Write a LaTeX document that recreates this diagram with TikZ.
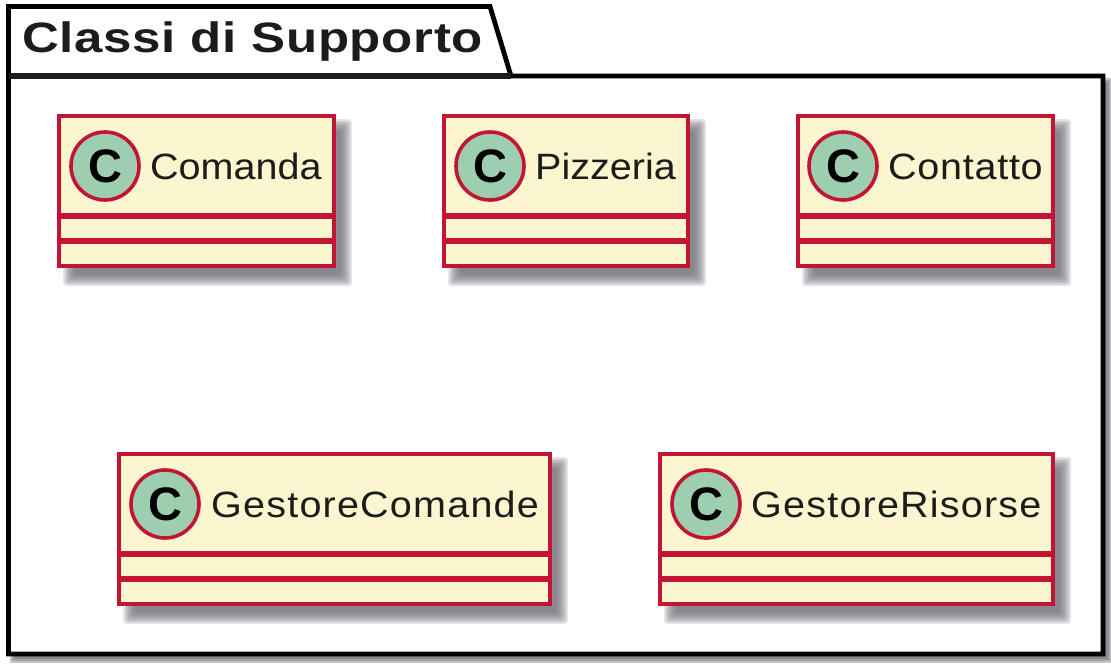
\documentclass[tikz,border=0pt]{standalone}
\usepackage{fontspec}
\setmainfont{Liberation Sans}
\newfontfamily\titlefont[FakeStretch=1.2,LetterSpace=1.6]{Liberation Sans Bold}
\newfontfamily\classfont[FakeStretch=1.08]{Liberation Sans}
\usetikzlibrary{calc,backgrounds}
\definecolor{classred}{HTML}{C41436}
\definecolor{classfill}{HTML}{FBF6CF}
\definecolor{spotgreen}{HTML}{9ECEB0}
\definecolor{shadowgrey}{HTML}{6E6974}
\definecolor{inkgrey}{HTML}{1C1C1A}
\begin{document}
\begin{tikzpicture}[x=1pt, y=-1pt,
    classbox/.style={draw=classred, fill=classfill, line width=4.7pt, anchor=north west, inner sep=0pt, outer sep=0pt, minimum height=150pt},
    spot/.style={circle, draw=classred, fill=spotgreen, line width=3.6pt, minimum size=68pt, inner sep=0pt, outer sep=0pt, font=\fontsize{47}{47}\selectfont\bfseries, text=black},
    classname/.style={anchor=base west, inner sep=0pt, text=inkgrey, font=\fontsize{36.6}{40}\classfont\addfontfeatures{LetterSpace=#1}},
    divider/.style={draw=classred, line width=5.8pt}]
    \useasboundingbox (0,0) rectangle (1111,664);
    % classes
    \node[classbox, minimum width=275pt] (comanda) at (59,116) {};
    \node[classbox, minimum width=244pt] (pizzeria) at (444,116) {};
    \node[classbox, minimum width=255pt] (contatto) at (798,116) {};
    \node[classbox, minimum width=431pt] (gestorecomande) at (119,454) {};
    \node[classbox, minimum width=393pt] (gestorerisorse) at (660,454) {};
    % package and shadows go behind the classes
    \begin{scope}[on background layer]
      \foreach \d in {4,2,0,-2,-4}
        \fill[shadowgrey, opacity=.4] (14-\d,82-\d) rectangle (1108+\d,659+\d);
      \draw[fill=white, line width=4.8pt] (8.5,76) -- (8.5,6.5) -- (490,6.5) -- (511,76) -- (1103,76) -- (1103,654) -- (8.5,654) -- cycle;
      \draw[line width=5.4pt, inkgrey] (8.5,76) -- (511,76);
      \foreach \boxname in {comanda,pizzeria,contatto,gestorecomande,gestorerisorse}
        \foreach \d in {8,6.5,5,3.5,2,.5,-1,-2.5,-4}
          \fill[shadowgrey, opacity=.16, rounded corners=3pt] ($(\boxname.north west)+(12-\d,11-\d)$) rectangle ($(\boxname.south east)+(10+\d,12+\d)$);
    \end{scope}
    \node[anchor=base west, inner sep=0pt, text=inkgrey, font=\fontsize{42.5}{44}\titlefont] (title) at (22,52.5) {Classi di Supporto};
    \node[spot] (s1) at (105,166) {C};
    \node[spot] (s2) at (490,166) {C};
    \node[spot] (s3) at (843,166) {C};
    \node[spot] (s4) at (165,504) {C};
    \node[spot] (s5) at (706,504) {C};
    \node[classname=0] (n1) at (150,179) {Comanda};
    \node[classname=0] (n2) at (535,179) {Pizzeria};
    \node[classname=2] (n3) at (888,179) {Contatto};
    \node[classname=3.3] (n4) at (211,517) {GestoreComande};
    \node[classname=3.3] (n5) at (751,517) {GestoreRisorse};
    % dividers
    \foreach \boxname in {comanda,pizzeria,contatto,gestorecomande,gestorerisorse} {
      \draw[divider] ($(\boxname.north west)+(0,99.7)$) -- ($(\boxname.north east)+(0,99.7)$);
      \draw[divider] ($(\boxname.north west)+(0,125)$) -- ($(\boxname.north east)+(0,125)$);
    }
  \end{tikzpicture}
\end{document}
